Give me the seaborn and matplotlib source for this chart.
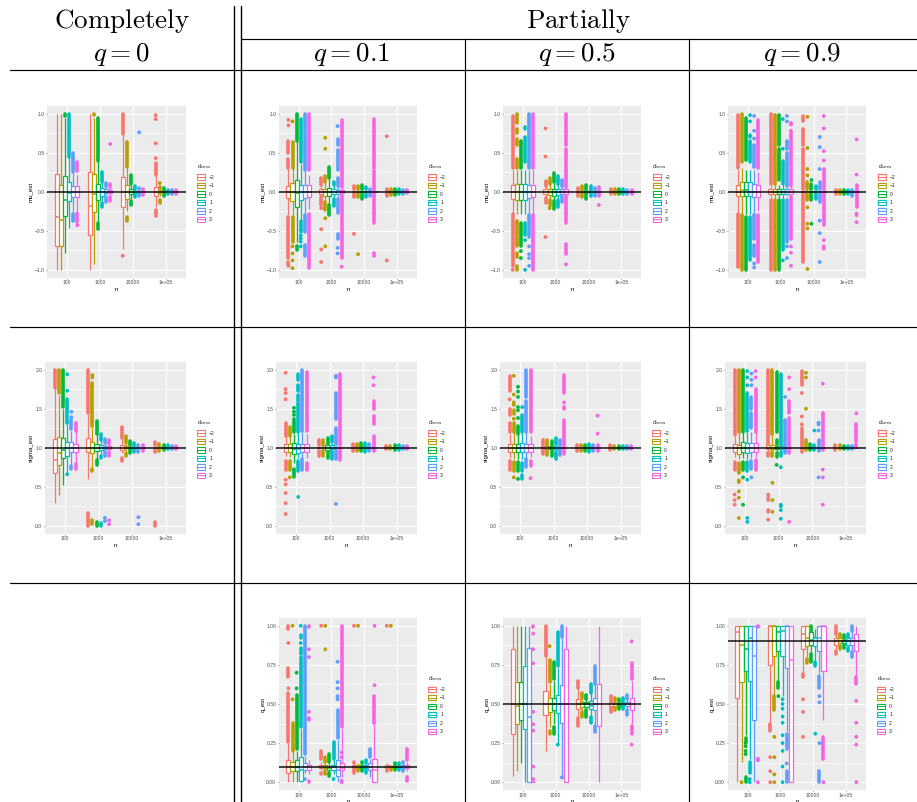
import pandas as pd
import seaborn as sns
import matplotlib.pyplot as plt
from matplotlib.lines import Line2D
from matplotlib.patches import Patch, Rectangle
from matplotlib.legend_handler import HandlerPatch

n_labels = ['100', '1000', '10000', '1e+05']
d_cens = ['\u22122', '\u22121', '0', '1', '2', '3']
colors = ['#F8766D', '#B79F00', '#00BA38', '#00BFC4', '#619CFF', '#F564E3']
mu_ticks = [-1.0, -0.5, 0.0, 0.5, 1.0]
sigma_ticks = [0.0, 0.5, 1.0, 1.5, 2.0]
q_ticks = [0.0, 0.25, 0.5, 0.75, 1.0]

# box = [n][d] -> low whisker, q1, median, q3, high whisker
# out = [n][d] -> float is a single outlier, tuple is a dense run of outliers
mu_q0_box = [
    [[-1, -.70, -.32, .23, 1], [-1, -.69, -.36, .09, 1], [-.79, -.31, -.11, .2, .95], [-.46, -.12, -.02, .12, .44], [-.28, -.07, -.01, .07, .24], [-.25, -.07, -.01, .07, .22]],
    [[-1, -.55, -.18, .25, 1], [-.92, -.26, -.03, .23, .95], [-.38, -.1, 0, .1, .38], [-.15, -.05, 0, .05, .13], [-.07, -.02, 0, .03, .07], [-.06, -.02, 0, .02, .06]],
    [[-.74, -.19, 0, .19, .73], [-.25, -.09, -.01, .08, .3], [-.09, -.03, 0, .03, .09], [-.04, -.015, 0, .015, .04], [-.03, -.01, 0, .01, .03], [-.02, -.01, 0, .01, .02]],
    [[-.2, -.06, -.01, .06, .2], [-.05, -.02, 0, .02, .05], [-.02, -.01, 0, .01, .02], [-.015, -.005, 0, .005, .015], [-.015, -.005, 0, .005, .015], [-.015, -.005, 0, .005, .015]],
]
mu_q0_out = [
    [[], [], [(.97, 1)], [(.45, .99)], [(.25, .5), (-.38, -.29)], [(.26, .38), (-.39, -.27), -.43]],
    [[], [(.98, 1)], [(.39, .95), (-.48, -.4)], [(.13, .25), (-.2, -.15)], [(.07, .11), (-.13, -.08)], [(.06, .1), (-.12, -.07), .61]],
    [[(.74, 1), -.82], [(.32, .64), (-.38, -.33)], [(.1, .21), (-.17, -.12)], [(.04, .07), (-.07, -.04)], [(.03, .05), (-.05, -.03), .76], [(.02, .04), (-.04, -.02)]],
    [[(.22, .37), (-.31, -.24), .43, .62, .93, .98], [(.05, .06), (-.15, -.1), .11], [(.02, .05), (-.06, -.03)], [(.015, .025), (-.025, -.015)], [(.015, .025), (-.025, -.015)], [(.015, .025), (-.025, -.015)]],
]

mu_q1_box = [
    [[-.3, -.08, 0, .07, .3], [-.3, -.12, -.01, .11, .3], [-.65, -.19, -.02, .15, .65], [-.36, -.1, 0, .09, .36], [-.28, -.08, 0, .08, .28], [-.22, -.07, 0, .08, .22]],
    [[-.08, -.03, 0, .03, .08], [-.12, -.05, 0, .04, .12], [-.16, -.06, 0, .05, .16], [-.08, -.03, 0, .03, .08], [-.07, -.03, 0, .02, .07], [-.06, -.02, 0, .02, .06]],
    [[-.02, -.01, 0, .01, .02], [-.03, -.01, 0, .01, .03], [-.03, -.01, 0, .01, .03], [-.02, -.01, 0, .01, .02], [-.02, -.01, 0, .01, .02], [-.01, -.005, 0, .005, .01]],
    [[-.01, -.004, 0, .004, .01], [-.01, -.004, 0, .004, .01], [-.01, -.004, 0, .004, .01], [-.01, -.004, 0, .004, .01], [-.01, -.004, 0, .004, .01], [-.005, -.002, 0, .002, .005]],
]
mu_q1_out = [
    [[(.3, .42), (.5, .65), .85, .92, (-.85, -.32), (-.93, -.9), -.95], [(.3, .64), .9, (-.65, -.32), -.7, -.79, -.88, -.98], [(.65, 1), (-.75, -.7)], [(.38, .93), (-.52, -.37), -.56, -.6, -.64, -.7], [(.28, 1), (-.52, -.3), (-.82, -.68)], [(.28, 1), (-.98, -.28)]],
    [[(.08, .18), (-.17, -.07), -.21, -.48, -.74, -.9], [(.12, .2), (-.24, -.13), .69, .55, -.34, -.7], [(.17, .32), (-.3, -.17)], [(.08, .13), (-.18, -.09)], [(.07, .18), (-.27, -.09), (.28, .53), (-.6, -.54), (.6, .68), .84, -.72, -.79], [(.06, .92), (-.85, -.06), -.96]],
    [[(.03, .07), (-.07, -.03), -.54], [(.03, .07), (-.07, -.03), -.8], [(.03, .09), (-.09, -.03)], [(.03, .06), (-.07, -.03)], [(.02, .04), (-.05, -.02)], [(.02, .27), (.3, .93), (-.4, -.01), (-.82, -.78)]],
    [[(.01, .03), (-.06, -.01), .71, -.88], [(.01, .04), (-.04, -.01)], [(.01, .04), (-.04, -.01)], [(.01, .03), (-.03, -.01)], [(.01, .025), (-.03, -.01)], [(.005, .02), (-.02, -.005)]],
]

mu_q5_box = [
    [[-.28, -.09, 0, .08, .28], [-.28, -.1, 0, .1, .28], [-.28, -.11, 0, .1, .28], [-.28, -.1, 0, .1, .28], [-.28, -.08, 0, .08, .28], [-.28, -.07, 0, .08, .28]],
    [[-.07, -.03, 0, .03, .07], [-.1, -.04, 0, .03, .1], [-.12, -.05, 0, .04, .12], [-.1, -.04, 0, .03, .1], [-.07, -.03, 0, .03, .07], [-.06, -.03, 0, .03, .06]],
    [[-.02, -.01, 0, .01, .02], [-.02, -.01, 0, .01, .02], [-.02, -.01, 0, .01, .02], [-.02, -.01, 0, .01, .02], [-.02, -.01, 0, .01, .02], [-.02, -.01, 0, .01, .02]],
    [[-.01, -.004, 0, .004, .01], [-.01, -.004, 0, .004, .01], [-.01, -.004, 0, .004, .01], [-.01, -.004, 0, .004, .01], [-.01, -.004, 0, .004, .01], [-.01, -.004, 0, .004, .01]],
]
mu_q5_out = [
    [[(.3, .97), (-.95, -.28), -1], [(.3, .42), (.6, .68), (.75, .8), (.88, 1), (-.55, -.37), (-.7, -.58), (-.83, -.78), (-1, -.95)], [(.3, .65), (-.7, -.4), -.76, -.85], [(.38, .7), (.8, .83), (-.55, -.4), -.62, -1], [(.3, .99), (-.58, -.3), -.7, -.8, -.85, -.95], [(.3, 1), (-1, -.3)]],
    [[(.07, .14), (-.15, -.08), .81, .45, -.58], [(.1, .17), (-.18, -.1), -.21], [(.12, .24), (-.22, -.12)], [(.1, .2), (-.2, -.1)], [(.07, .15), (-.13, -.07)], [(.06, .55), (.6, 1), (-.4, -.06), (-.7, -.67), (-.8, -.72), -.93]],
    [[(.02, .05), (-.06, -.02)], [(.02, .07), (-.07, -.02)], [(.02, .08), (-.09, -.02)], [(.02, .07), (-.06, -.02)], [(.02, .05), (-.05, -.02)], [(.02, .06), (-.06, -.02), -.17]],
    [[(.01, .03), (-.03, -.01)], [(.01, .03), (-.03, -.01)], [(.01, .03), (-.03, -.01)], [(.01, .03), (-.03, -.01)], [(.01, .025), (-.025, -.01)], [(.01, .025), (-.025, -.01)]],
]

mu_q9_box = [
    [[-.28, -.06, 0, .08, .28], [-.3, -.06, .02, .13, .3], [-.28, -.06, .02, .13, .28], [-.28, -.06, 0, .12, .28], [-.28, -.07, 0, .1, .28], [-.25, -.07, 0, .09, .25]],
    [[-.08, -.03, 0, .03, .08], [-.08, -.03, 0, .03, .08], [-.08, -.03, 0, .03, .08], [-.08, -.03, 0, .03, .08], [-.06, -.03, 0, .03, .06], [-.06, -.03, 0, .03, .06]],
    [[-.03, -.01, 0, .01, .03], [-.03, -.01, 0, .01, .03], [-.03, -.01, 0, .01, .03], [-.03, -.01, 0, .01, .03], [-.03, -.01, 0, .01, .03], [-.03, -.01, 0, .01, .03]],
    [[-.01, -.004, 0, .004, .01], [-.01, -.004, 0, .004, .01], [-.01, -.004, 0, .004, .01], [-.01, -.004, 0, .004, .01], [-.01, -.004, 0, .004, .01], [-.01, -.004, 0, .004, .01]],
]
mu_q9_out = [
    [[(.3, .98), (-.97, -.28)], [(.38, 1), (-1, -.3)], [(.4, .95), (-1, -.32)], [(.38, .65), (.7, .73), .9, .98, (-.88, -.32)], [(.32, .6), .68, .78, .97, (-.6, -.3), (-.82, -.68), -.92, -.97], [(.3, .92), (-.9, -.3)]],
    [[(.1, 1), (-1, -.1)], [(.1, .98), (-1, -.1)], [(.15, .55), (.6, .98), (-1, -.1)], [(.1, .35), (.37, .39), .55, .93, (-.75, -.1), -.88], [(.07, .5), (.55, .65), .9, .97, (-.65, -.1), -.7, -.85], [(.07, .75), .78, .86, .88, (-.6, -.07), -.7, -.78, -.95]],
    [[(.03, .55), (.6, .8), (.9, .97), (-.9, -.03)], [(.03, .13), .21, .29, .56, .96, (-.1, -.03), -.2, -.41, -.47, -.99], [(.03, .1), .15, (-.1, -.03), -.41], [(.03, .07), (-.09, -.03)], [(.03, .12), .29, .57, .7, (-.13, -.03), -.37, -.53, -.9], [(.03, .29), .4, .52, .81, .97, (-.43, -.03), -.62, -.7, -.73]],
    [[(.01, .02), (-.03, -.01)], [(.01, .02), (-.03, -.01)], [(.01, .02), (-.03, -.01)], [(.01, .02), (-.03, -.01)], [(.01, .02), (-.05, -.01)], [(.01, .09), .22, .67, (-.2, -.01), -.28, -.3, -.39]],
]

sigma_q0_box = [
    [[.29, .67, .84, 1.11, 1.75], [.4, .78, .93, 1.14, 1.68], [.52, .87, .97, 1.12, 1.5], [.68, .9, .99, 1.07, 1.3], [.77, .94, 1, 1.07, 1.22], [.8, .95, 1, 1.05, 1.2]],
    [[.6, .95, 1, 1.12, 1.43], [.72, .93, 1, 1.07, 1.27], [.84, .96, 1, 1.05, 1.17], [.9, .97, 1, 1.03, 1.1], [.94, .98, 1, 1.02, 1.06], [.95, .98, 1, 1.02, 1.05]],
    [[.93, .97, 1, 1.04, 1.12], [.96, .99, 1, 1.02, 1.05], [.97, .99, 1, 1.01, 1.03], [.98, .99, 1, 1.01, 1.02], [.98, .99, 1, 1.01, 1.02], [.98, .99, 1, 1.01, 1.02]],
    [[.98, .99, 1, 1.01, 1.02], [.98, .995, 1, 1.005, 1.02], [.99, .995, 1, 1.005, 1.01], [.99, .995, 1, 1.005, 1.01], [.99, .995, 1, 1.005, 1.01], [.99, .995, 1, 1.005, 1.01]],
]
sigma_q0_out = [
    [[(1.76, 2)], [(1.7, 2)], [(1.52, 2)], [(1.32, 1.63), 1.73, 1.94, .66], [(1.24, 1.36), 1.39, 1.46, (.73, .77)], [(1.22, 1.31), (.73, .79)]],
    [[(1.45, 2), (0, .16)], [(1.28, 1.83), 1.9, 1.93, (.7, .73), (.02, .08)], [(1.18, 1.34), (.78, .84), (0, .05)], [(1.1, 1.17), (.87, .9), (0, .03)], [(1.06, 1.11), (.9, .94), .1, .06], [(1.05, 1.1), (.9, .95), .07, .02]],
    [[(1.12, 1.27), (.83, .87)], [(1.06, 1.15), (.89, .93)], [(1.04, 1.08), (.93, .97)], [(1.02, 1.06), (.95, .98)], [(1.02, 1.04), (.95, .98), .11, .02], [(1.02, 1.04), (.96, .98)]],
    [[(1.03, 1.07), (.94, .97), (0, .05)], [(1.02, 1.05), (.96, .98)], [(1.01, 1.04), (.97, .99)], [(1.01, 1.03), (.98, .99)], [(1.01, 1.02), (.98, .99)], [(1.01, 1.02), (.98, .99)]],
]

sigma_q1_box = [
    [[.9, .94, .99, 1.05, 1.15], [.88, .95, 1, 1.05, 1.15], [.8, .92, .98, 1.06, 1.18], [.87, .93, .98, 1.05, 1.2], [.87, .95, 1, 1.05, 1.2], [.87, .95, 1, 1.05, 1.18]],
    [[.96, .99, 1, 1.01, 1.03], [.96, .99, 1, 1.01, 1.03], [.95, .97, 1, 1.03, 1.05], [.96, .98, 1, 1.03, 1.06], [.97, .99, 1, 1.01, 1.03], [.98, .99, 1, 1.01, 1.02]],
    [[.99, .995, 1, 1.005, 1.01], [.99, .995, 1, 1.005, 1.01], [.99, .995, 1, 1.005, 1.01], [.99, .995, 1, 1.005, 1.01], [.99, .995, 1, 1.005, 1.01], [.99, .995, 1, 1.005, 1.01]],
    [[.995, .998, 1, 1.002, 1.005], [.995, .998, 1, 1.002, 1.005], [.995, .998, 1, 1.002, 1.005], [.995, .998, 1, 1.002, 1.005], [.995, .998, 1, 1.002, 1.005], [.995, .998, 1, 1.002, 1.005]],
]
sigma_q1_out = [
    [[(1.15, 1.32), (.72, .83), 1.62, 1.7, 1.75, 1.96, .59, .53, .42, .29, .15], [(1.15, 1.27), (.72, .83), .62], [(1.2, 1.37), 1.42, 1.46, 1.51, (.62, .73)], [(1.2, 1.57), (1.6, 1.68), (1.72, 1.8), (1.87, 1.95), (.7, .83), .37], [(1.22, 2), (.72, .85)], [(1.22, 1.97), (.72, .8)]],
    [[(1.03, 1.1), (.9, .96)], [(1.03, 1.1), (.89, .96)], [(1.05, 1.13), (.87, .94)], [(1.07, 1.15), (.86, .94)], [(1.05, 1.25), (1.37, 1.52), (1.55, 1.7), 1.9, 1.92, (.85, .96), .28], [(1.03, 1.95), (.84, .97)]],
    [[(1.01, 1.05), (.96, .99)], [(1.01, 1.05), (.96, .99)], [(1.01, 1.06), (.96, .99)], [(1.01, 1.06), (.94, .99)], [(1.01, 1.05), (.96, .99)], [(1.01, 1.15), (1.3, 1.4), (1.5, 1.6), 1.8, 1.9, (.96, .99)]],
    [[(1.01, 1.02), (.98, .99)], [(1.01, 1.02), (.98, .99)], [(1.01, 1.03), (.97, .99)], [(1.01, 1.03), (.97, .99)], [(1.01, 1.02), (.98, .99)], [(1.01, 1.02), (.98, .99)]],
]

sigma_q5_box = [
    [[.87, .95, 1, 1.05, 1.18], [.85, .95, 1, 1.05, 1.2], [.85, .95, 1, 1.05, 1.18], [.85, .95, 1, 1.06, 1.2], [.85, .95, 1, 1.05, 1.2], [.88, .95, 1, 1.05, 1.15]],
    [[.97, .98, 1, 1.02, 1.04], [.96, .98, 1, 1.02, 1.04], [.96, .98, 1, 1.02, 1.04], [.95, .98, 1, 1.02, 1.05], [.97, .99, 1, 1.01, 1.03], [.97, .99, 1, 1.01, 1.02]],
    [[.99, .995, 1, 1.005, 1.01], [.99, .995, 1, 1.005, 1.01], [.99, .995, 1, 1.005, 1.01], [.99, .995, 1, 1.005, 1.01], [.99, .995, 1, 1.005, 1.01], [.99, .995, 1, 1.005, 1.01]],
    [[.995, .998, 1, 1.002, 1.005], [.995, .998, 1, 1.002, 1.005], [.995, .998, 1, 1.002, 1.005], [.995, .998, 1, 1.002, 1.005], [.995, .998, 1, 1.002, 1.005], [.995, .998, 1, 1.002, 1.005]],
]
sigma_q5_out = [
    [[(1.2, 1.32), (1.42, 1.5), 1.62, (1.72, 1.92), (.72, .83)], [(1.2, 1.32), 1.37, (1.43, 1.48), 1.55, 1.58, 1.68, 1.92, (.7, .82), .62], [(1.18, 1.28), 1.38, 1.48, 1.52, 1.65, 1.72, 1.78, (.7, .82), .6], [(1.2, 1.42), 1.52, (.7, .8), (.6, .65)], [(1.2, 1.6), (1.65, 2), (.75, .85)], [(1.2, 2), (.77, .83), .61]],
    [[(1.04, 1.1), (.92, .97)], [(1.04, 1.1), (.91, .96)], [(1.04, 1.09), (.9, .96)], [(1.05, 1.13), (.85, .95)], [(1.03, 1.1), (.91, .97)], [(1.02, 1.35), 1.5, 1.52, 1.58, (1.7, 1.8), (1.82, 1.93), (.92, .97)]],
    [[(1.01, 1.04), (.96, .99)], [(1.01, 1.04), (.96, .99)], [(1.01, 1.04), (.96, .99)], [(1.01, 1.05), (.95, .99)], [(1.01, 1.04), (.96, .99)], [(1.01, 1.04), (.96, .99), 1.18, 1.41]],
    [[(1.01, 1.03), (.97, .99)], [(1.01, 1.02), (.98, .99)], [(1.01, 1.02), (.98, .99)], [(1.01, 1.02), (.98, .99)], [(1.01, 1.02), (.98, .99)], [(1.01, 1.02), (.98, .99)]],
]

sigma_q9_box = [
    [[.88, .95, 1, 1.05, 1.15], [.85, .92, 1, 1.04, 1.2], [.87, .94, 1, 1.07, 1.2], [.85, .93, 1, 1.06, 1.2], [.87, .94, 1, 1.06, 1.2], [.88, .94, 1, 1.06, 1.2]],
    [[.93, .98, 1, 1.03, 1.06], [.95, .98, 1, 1.03, 1.18], [.93, .98, 1, 1.02, 1.05], [.95, .98, 1, 1.02, 1.03], [.97, .99, 1, 1.01, 1.02], [.97, .99, 1, 1.01, 1.02]],
    [[.98, .99, 1, 1.01, 1.02], [.98, .99, 1, 1.01, 1.02], [.98, .99, 1, 1.01, 1.02], [.98, .99, 1, 1.01, 1.02], [.98, .99, 1, 1.01, 1.02], [.98, .99, 1, 1.01, 1.02]],
    [[.995, .998, 1, 1.002, 1.005], [.995, .998, 1, 1.002, 1.005], [.995, .998, 1, 1.002, 1.005], [.995, .998, 1, 1.002, 1.005], [.995, .998, 1, 1.002, 1.005], [.995, .998, 1, 1.002, 1.005]],
]
sigma_q9_out = [
    [[(1.16, 2), (.72, .82), .4, .33, .27], [(1.2, 2), (.68, .8), .58, .56, .44, .36, .1], [(1.2, 2), (.72, .82), .62, .27], [(1.22, 1.7), 1.8, 1.9, 1.98, (.7, .82), .59, .1, .05], [(1.25, 1.45), (1.5, 1.65), 1.8, 1.87, 1.95, (.73, .83), .62], [(1.2, 1.75), 1.9, 1.98, (.72, .84)]],
    [[(1.05, 2), (.9, .93), .4, .36, .33, .2, .18, .08], [(1.18, 2), (.9, .95), .55, .33, .18], [(1.05, 1.1), (1.2, 1.97), (.88, .93), .78], [(1.02, 1.95), (.9, .95), .75, .27, .25, .2, .09], [(1.02, 1.35), (.93, .98), 1.65], [(1.02, 1.38), (1.45, 1.6), 1.75, 1.9, (.93, .97), .05]],
    [[(1.02, 1.25), 1.3, 1.4, 1.7, (1.8, 1.98), (.95, .98)], [(1.02, 1.1), 1.5, 1.9, 1.96, (.97, .99)], [(1.02, 1.05), (.97, .99)], [1.22, (1.01, 1.04), (.97, .99)], [(1.02, 1.1), 1.22, 1.3, 1.32, (.96, .99), .62], [(1.02, 1.45), 1.82, (.97, .99), .72, .62, .27]],
    [[(1.01, 1.03), (.97, .99)], [(1.01, 1.03), (.98, .99)], [(1.01, 1.02), (.98, .99)], [(1.01, 1.02), (.98, .99)], [(1.01, 1.02), (.98, .99)], [(1.01, 1.05), (1.08, 1.12), (1.15, 1.3), 1.44]],
]

q_q1_box = [
    [[0, .06, .1, .14, .25], [0, .07, .1, .13, .19], [0, .07, .1, .14, .2], [0, .01, .08, .16, .34], [.06, .08, .1, .12, .17], [.05, .08, .1, .11, .14]],
    [[.08, .09, .1, .11, .13], [.07, .09, .1, .11, .12], [.06, .08, .09, .1, .12], [.05, .08, .1, .11, .14], [0, .04, .08, .14, .27], [.03, .08, .09, .12, .34]],
    [[.08, .09, .1, .11, .12], [.08, .09, .1, .11, .12], [.08, .09, .1, .11, .12], [.08, .09, .1, .11, .12], [.03, .08, .1, .12, .15], [0, 0, .08, .15, .37]],
    [[.08, .09, .1, .11, .12], [.09, .095, .1, .105, .11], [.09, .095, .1, .105, .11], [.09, .095, .1, .105, .11], [.08, .09, .1, .11, .12], [.07, .09, .1, .11, .13]],
]
q_q1_out = [
    [[(.26, .57), .6, (.67, .69), (.7, .73), .89, (.98, 1)], [(.2, .38), .53, 1], [(.21, .56), .6, .7], [(.35, .8), (.82, .86), .89, (.92, .94), 1], [(.18, 1), .02], [(0, .01), .4, .41, .45, .8, .85, (.99, 1)]],
    [[(.15, .2), (.05, .06), 1], [(.13, .16), (.05, .07), .85, 1], [(.13, .18), (.04, .06)], [(.15, .26), .02], [(.28, .46), .53, .55, .6, .64, .77], [(.35, 1), .16, .19, .01, 0]],
    [[(.12, .13), (.06, .08), 1], [(.12, .12), (.07, .08), 1], [(.12, .13), (.07, .08)], [(.12, .14), (.06, .08)], [(.16, .21)], [(.38, .55), .62, 1]],
    [[(.12, .12), (.07, .08), 1], [(.11, .11), (.08, .09), 1], [(.11, .12), (.08, .09)], [(.11, .12), (.08, .09)], [(.12, .13), (.07, .08)], [(.14, .21), (.01, .03)]],
]

q_q5_box = [
    [[.04, .31, .5, .85, 1], [.07, .37, .49, .64, 1], [.12, .4, .5, .64, 1], [0, .34, .5, .74, 1], [0, 0, .42, .86, 1], [0, 0, 0, 0, 0]],
    [[.2, .43, .5, .58, .8], [.35, .45, .5, .54, .63], [.37, .46, .5, .54, .65], [.25, .44, .5, .56, .73], [.03, .38, .5, .62, .92], [0, 0, .5, .85, 1]],
    [[.41, .47, .5, .53, .6], [.45, .48, .5, .51, .54], [.46, .48, .5, .51, .53], [.42, .47, .49, .52, .57], [.37, .46, .5, .54, .63], [0, .36, .5, .63, 1]],
    [[.48, .49, .5, .51, .52], [.48, .49, .5, .505, .52], [.49, .495, .5, .505, .51], [.49, .495, .5, .505, .51], [.46, .49, .5, .51, .53], [.37, .46, .5, .54, .65]],
]
q_q5_out = [
    [[], [], [], [], [], [(.99, 1), .95, .85, .76, .45, .37, .33, .1, .02]],
    [[(.81, 1)], [(.64, .78), .87, (.31, .33)], [(.66, .77), (.31, .35)], [(.74, .96), .24], [(.93, 1), .03], []],
    [[(.6, .65), (.36, .41)], [(.54, .57), (.42, .45)], [(.53, .56), (.42, .46)], [(.57, .63), (.38, .42)], [(.63, .74), (.32, .36)], []],
    [[(.52, .55), (.45, .48)], [(.52, .54), (.46, .48)], [(.51, .53), (.47, .49)], [(.51, .54), (.47, .49)], [(.53, .56), (.43, .46)], [(.66, .76), (.31, .36), .24, .9]],
]

q_q9_box = [
    [[0, .54, .96, 1, 1], [.13, .64, .88, 1, 1], [.3, .71, .85, 1, 1], [.15, .65, .92, 1, 1], [0, .4, .81, 1, 1], [1, 1, 1, 1, 1]],
    [[.38, .75, 1, 1, 1], [.56, .81, 1, 1, 1], [.65, .84, .96, 1, 1], [.55, .81, .97, 1, 1], [.33, .73, 1, 1, 1], [0, 0, .78, 1, 1]],
    [[.7, .85, .95, 1, 1], [.8, .87, .92, 1, 1], [.82, .88, .91, .96, .96], [.78, .87, .92, .93, .98], [.7, .84, .92, 1, 1], [.4, .71, 1, 1, 1]],
    [[.84, .88, .9, .92, .95], [.87, .89, .9, .92, .93], [.88, .89, .9, .91, .92], [.86, .88, .9, .92, .93], [.84, .88, .9, .92, .97], [.68, .84, .9, .95, 1]],
]
q_q9_out = [
    [[], [0], [.18, .2, .23, .25, (.26, .28), (0, .03)], [(.06, .13), .02, 0], [], [(.99, 1), .15, .14, 0]],
    [[(.33, .37), .16, .07, 0], [(.46, .55), .29, .16, .05, 0], [(.6, .64), .55], [.53, .5, .47, .42, .38, .3, .25, .2, .1, 0], [(.21, .31), .12, (0, .07)], []],
    [[(.67, .69), .53, .45, .29], [(.76, .79)], [(.77, .82), (.96, 1)], [(.74, .77), .31], [(.6, .68), .55, .51, .25, (0, .07)], [(.15, .29), 0]],
    [[(.95, 1), (.82, .84)], [(.93, .95), (.85, .87)], [(.92, .94), (.86, .88)], [(.93, .95), (.84, .86)], [(.97, 1), (.8, .83)], [(.63, .67), .52, .38, .29, .24, 0]],
]

W, H = 917, 802
sns.set_theme(style='darkgrid', rc={'axes.facecolor': '#EBEBEB', 'grid.color': 'white', 'mathtext.fontset': 'cm'})
plt.rcParams['font.family'] = ['Liberation Sans', 'DejaVu Sans']
fig = plt.figure(figsize=(W / 100, H / 100), dpi=100, facecolor='white')


class KeyHandler(HandlerPatch):
    # ggplot style legend key, a small box with its median line
    def create_artists(self, legend, orig, xd, yd, w, h, fontsize, trans):
        bg = Rectangle((-xd - 0.5, -yd - 1), w + 1, h + 2, fc='#F2F2F2', ec='none', transform=trans)
        box = Rectangle((-xd, -yd), w, h, fc='white', ec=orig.get_edgecolor(), lw=0.75, transform=trans)
        mid = Line2D([-xd, -xd + w], [-yd + h / 2] * 2, color=orig.get_edgecolor(), lw=0.75, transform=trans)
        return [bg, box, mid]


def draw_panel(left, right, top, bottom, box, out, truth, ylim, ticks, fmt, ylabel):
    ax = fig.add_axes([left / W, 1 - bottom / H, (right - left) / W, (bottom - top) / H])
    rows = []
    dots = []
    bands = []
    for i, n in enumerate(n_labels):
        for j, d in enumerate(d_cens):
            rows += [{'n': n, 'd': d, 'val': v} for v in box[i][j]]
            xpos = i + (j - 2.5) * 0.125
            for item in out[i][j]:
                if isinstance(item, tuple):
                    bands.append((xpos, item[0], item[1], colors[j]))
                else:
                    dots.append({'x': xpos, 'y': item, 'd': d})
    df = pd.DataFrame(rows)
    sns.boxplot(data=df, x='n', y='val', hue='d', order=n_labels, hue_order=d_cens, palette=colors,
                width=0.75, whis=(0, 100), showcaps=False, showfliers=False, linewidth=0.9,
                saturation=1, legend=False, ax=ax, zorder=3, medianprops={'linewidth': 1.1})
    for x, lo, hi, col in bands:
        ax.vlines(x, lo, hi, color=col, lw=2.6, capstyle='round', zorder=2.5)
    if dots:
        sns.scatterplot(data=pd.DataFrame(dots), x='x', y='y', hue='d', hue_order=d_cens, palette=colors,
                        s=7.5, linewidth=0, legend=False, ax=ax, zorder=2.5)
    ax.axhline(truth, color='black', lw=1.2, alpha=0.85, zorder=5)

    ax.set_xlim(-0.6, 3.6)
    ax.set_ylim(*ylim)
    ax.set_yticks(ticks)
    ax.set_yticklabels([fmt.format(t).replace('-', '\u2212') for t in ticks])
    ax.set_yticks([(a + b) / 2 for a, b in zip(ticks[:-1], ticks[1:])], minor=True)
    ax.set_xticks(range(4))
    ax.set_xticklabels(n_labels)
    ax.grid(True, which='major', color='white', lw=0.85)
    ax.grid(True, which='minor', axis='y', color='white', lw=0.45)
    ax.grid(False, which='minor', axis='x')
    ax.set_axisbelow(True)
    ax.tick_params(which='major', length=1, width=0.4, color='#333333', labelcolor='#4D4D4D',
                   labelsize=3.6, pad=1, bottom=True, left=True)
    ax.tick_params(which='minor', length=0)
    for s in ax.spines.values():
        s.set_visible(False)
    ax.set_xlabel('n', fontsize=4.4, labelpad=1, color='black')
    ax.set_ylabel(ylabel, fontsize=4.4, labelpad=0.6, color='black')

    handles = [Patch(facecolor='white', edgecolor=c, label=d) for c, d in zip(colors, d_cens)]
    leg = ax.legend(handles=handles, title=r'$\mathregular{d_{cens}}$', loc='center left',
                    frameon=False, fontsize=3.6, title_fontsize=4.6, handlelength=1.6, handleheight=1.2,
                    labelspacing=0.65, handletextpad=0.8, borderpad=0, alignment='left',
                    handler_map={Patch: KeyHandler()})
    leg.set_bbox_to_anchor(((right + 9) / W, 1 - ((top + bottom) / 2 + 0.5) / H), transform=fig.transFigure)

    # one container per hue, recolour last so nothing overrides it
    for cont, col in zip(ax.containers, colors):
        for b in cont.boxes:
            b.set_edgecolor(col)
            b.set_facecolor('white')
        for line in list(cont.medians) + list(cont.whiskers):
            line.set_color(col)


rows_y = {'mu': (105.8, 277.6), 'sigma': (361.8, 533.6), 'q': (618, 790)}
mu_lim = (-1.1, 1.1)
sigma_lim = (-0.1, 2.1)
q_lim = (-0.05, 1.05)

draw_panel(47.3, 185.7, *rows_y['mu'], mu_q0_box, mu_q0_out, 0, mu_lim, mu_ticks, '{:.1f}', 'mu_est')
draw_panel(279, 416.7, *rows_y['mu'], mu_q1_box, mu_q1_out, 0, mu_lim, mu_ticks, '{:.1f}', 'mu_est')
draw_panel(503.3, 641, *rows_y['mu'], mu_q5_box, mu_q5_out, 0, mu_lim, mu_ticks, '{:.1f}', 'mu_est')
draw_panel(728.3, 866, *rows_y['mu'], mu_q9_box, mu_q9_out, 0, mu_lim, mu_ticks, '{:.1f}', 'mu_est')
draw_panel(45, 185.7, *rows_y['sigma'], sigma_q0_box, sigma_q0_out, 1, sigma_lim, sigma_ticks, '{:.1f}', 'sigma_est')
draw_panel(276, 416.7, *rows_y['sigma'], sigma_q1_box, sigma_q1_out, 1, sigma_lim, sigma_ticks, '{:.1f}', 'sigma_est')
draw_panel(500, 640.7, *rows_y['sigma'], sigma_q5_box, sigma_q5_out, 1, sigma_lim, sigma_ticks, '{:.1f}', 'sigma_est')
draw_panel(725, 866, *rows_y['sigma'], sigma_q9_box, sigma_q9_out, 1, sigma_lim, sigma_ticks, '{:.1f}', 'sigma_est')
draw_panel(279, 416.7, *rows_y['q'], q_q1_box, q_q1_out, 0.1, q_lim, q_ticks, '{:.2f}', 'q_est')
draw_panel(503.3, 641, *rows_y['q'], q_q5_box, q_q5_out, 0.5, q_lim, q_ticks, '{:.2f}', 'q_est')
draw_panel(728, 865.7, *rows_y['q'], q_q9_box, q_q9_out, 0.9, q_lim, q_ticks, '{:.2f}', 'q_est')


def rule(x0, y0, x1, y1, lw=0.85):
    fig.add_artist(Line2D([x0 / W, x1 / W], [1 - y0 / H, 1 - y1 / H], color='black', lw=lw, transform=fig.transFigure))


def head(x, y, s):
    fig.text(x / W, 1 - y / H, s, ha='center', va='center', fontsize=19.5, color='black')


# table frame around the panels
rule(10, 70, W, 70)
rule(10, 327, W, 327)
rule(10, 583, W, 583)
rule(241, 39, W, 39)
rule(234.5, 6, 234.5, H, lw=1.0)
rule(240.5, 6, 240.5, H, lw=1.0)
rule(465, 39, 465, H)
rule(689, 39, 689, H)

head(122, 21, r'$\mathrm{Completely}$')
head(122, 54, r'$q = 0$')
head(578, 21, r'$\mathrm{Partially}$')
head(352, 54, r'$q = 0.1$')
head(577, 54, r'$q = 0.5$')
head(802, 54, r'$q = 0.9$')

fig.savefig('out.png', dpi=100)
